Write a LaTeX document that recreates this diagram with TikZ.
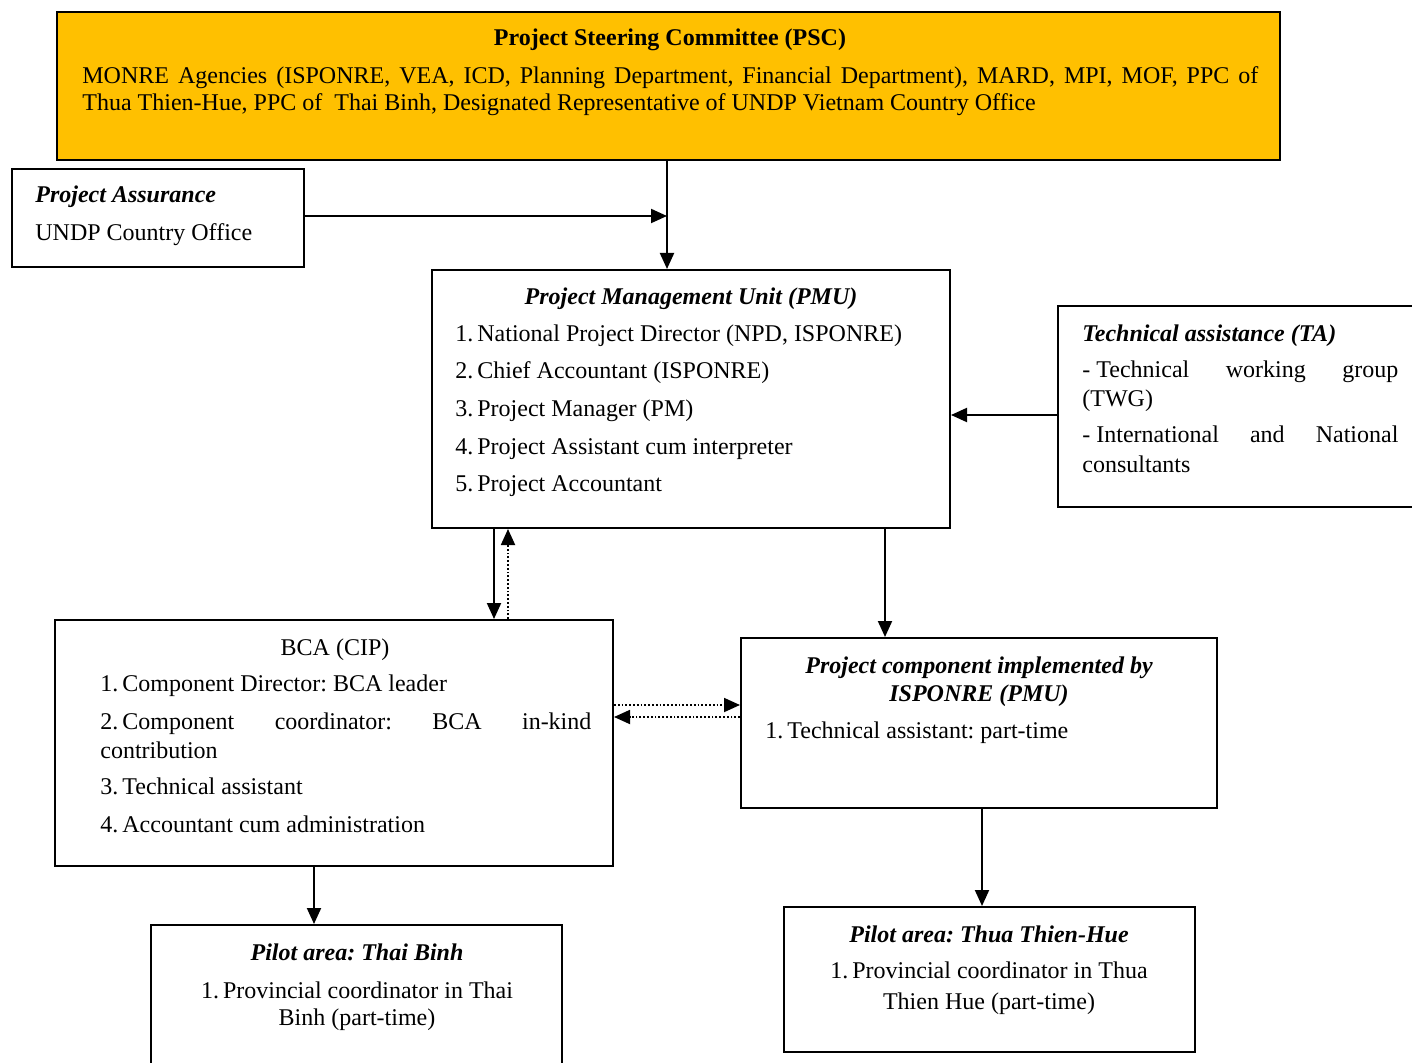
\documentclass[tikz,border=0pt]{standalone}
\usepackage{fontspec}
\setmainfont{Liberation Serif}
\usetikzlibrary{arrows.meta,fit}
\definecolor{pscfill}{HTML}{FFC000}
\frenchspacing
\newcommand\chartfont{\fontsize{12}{14}\selectfont}
\tikzset{
    >={Triangle[length=8pt,width=7pt]},
    unit/.style={
        rectangle,
        draw,
        line width=1pt,
        inner sep=0pt
    },
    txt/.style={anchor=base west, inner sep=0pt},
    ctxt/.style={anchor=base, inner sep=0pt},
    head/.style={font=\chartfont\bfseries\itshape},
    link/.style={->, line width=1pt},
    dlink/.style={->, line width=0.9pt, densely dotted}
}

\begin{document}
\begin{tikzpicture}[
    x=0.5pt, y=-0.5pt,
    font=\chartfont
]
\useasboundingbox (0,0) rectangle (1412,1063);

% Boxes
\node[unit, fill=pscfill, fit={(57,12) (1280,160)}] (psc) {};
\node[unit, fit={(12,169) (304,267)}] (pa) {};
\node[unit, fit={(432,270) (950,528)}] (pmu) {};
\node[unit, fit={(1058,306) (1422,507)}] (ta) {};
\node[unit, fit={(55,620) (613,866)}] (bca) {};
\node[unit, fit={(741,638) (1217,808)}] (comp) {};
\node[unit, fit={(151,925) (562,1075)}] (thai) {};
\node[unit, fit={(784,907) (1195,1052)}] (hue) {};

% Steering committee
\node[ctxt, font=\chartfont\bfseries] (psct) at (670,46) {Project Steering Committee (PSC)};
\node[txt] (psc1) at (82,84) {\makebox[588pt][s]{MONRE Agencies (ISPONRE, VEA, ICD, Planning Department, Financial Department), MARD, MPI, MOF, PPC of}};
\node[txt] (psc2) at (82,111) {Thua Thien-Hue, PPC of\ \ Thai Binh, Designated Representative of UNDP Vietnam Country Office};

% Assurance
\node[txt, head] (pat) at (35,203) {Project Assurance};
\node[txt] (pa1) at (35,241) {UNDP Country Office};

% PMU
\node[ctxt, head] (pmut) at (691,305) {Project Management Unit (PMU)};
\node[txt] (pmu1) at (455,342) {1.\kern2pt National Project Director (NPD, ISPONRE)};
\node[txt] (pmu2) at (455,379) {2.\kern2pt Chief Accountant (ISPONRE)};
\node[txt] (pmu3) at (455,417) {3.\kern2pt Project Manager (PM)};
\node[txt] (pmu4) at (455,455) {4.\kern2pt Project Assistant cum interpreter};
\node[txt] (pmu5) at (455,492) {5.\kern2pt Project Accountant};

% Technical assistance
\node[txt, head] (tat) at (1082,342) {Technical assistance (TA)};
\node[txt] (ta1) at (1082,378) {\makebox[158pt][s]{-\kern3pt Technical working group}};
\node[txt] (ta2) at (1082,407) {(TWG)};
\node[txt] (ta3) at (1082,443) {\makebox[158pt][s]{-\kern3pt International and National}};
\node[txt] (ta4) at (1082,473) {consultants};

% BCA
\node[ctxt] (bcat) at (335,655) {BCA (CIP)};
\node[txt] (bca1) at (100,691) {1.\kern2pt Component Director: BCA leader};
\node[txt] (bca2) at (100,729) {\makebox[245.5pt][s]{2.\kern2pt Component coordinator: BCA in-kind}};
\node[txt] (bca3) at (100,758) {contribution};
\node[txt] (bca4) at (100,794) {3.\kern2pt Technical assistant};
\node[txt] (bca5) at (100,832) {4.\kern2pt Accountant cum administration};

% ISPONRE component
\node[ctxt, head] (compt) at (979,673) {Project component implemented by};
\node[ctxt, head] (compu) at (979,701) {ISPONRE (PMU)};
\node[txt] (comp1) at (765,738) {1.\kern2pt Technical assistant: part-time};

% Pilot areas
\node[ctxt, head] (thait) at (357,960) {Pilot area: Thai Binh};
\node[ctxt] (thai1) at (357,998) {1.\kern2pt Provincial coordinator in Thai};
\node[ctxt] (thai2) at (357,1025) {Binh (part-time)};
\node[ctxt, head] (huet) at (989,942) {Pilot area: Thua Thien-Hue};
\node[ctxt] (hue1) at (989,978) {1.\kern2pt Provincial coordinator in Thua};
\node[ctxt] (hue2) at (989,1009) {Thien Hue (part-time)};

% Connectors
\coordinate (join) at (667,216);
\draw[link] (psc.south -| join) -- (pmu.north -| join);
\draw[link] (pa.east |- join) -- (join);

\coordinate (tajoin) at (1000,415);
\draw[link] (ta.west |- tajoin) -- (pmu.east |- tajoin);

\coordinate (down) at (494,570);
\coordinate (up) at (508,570);
\draw[link] (pmu.south -| down) -- (bca.north -| down);
\draw[dlink] (bca.north -| up) -- (pmu.south -| up);

\coordinate (pcx) at (885,580);
\draw[link] (pmu.south -| pcx) -- (comp.north -| pcx);

\coordinate (toright) at (680,705);
\coordinate (toleft) at (680,717);
\draw[dlink] (bca.east |- toright) -- (comp.west |- toright);
\draw[dlink] (comp.west |- toleft) -- (bca.east |- toleft);

\coordinate (tbx) at (314,890);
\draw[link] (bca.south -| tbx) -- (thai.north -| tbx);

\coordinate (huex) at (982,850);
\draw[link] (comp.south -| huex) -- (hue.north -| huex);

\end{tikzpicture}
\end{document}
